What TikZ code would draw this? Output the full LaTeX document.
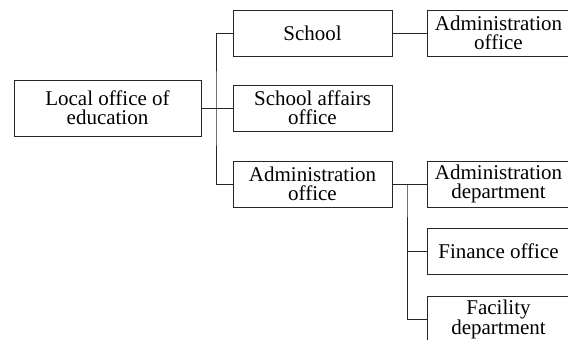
\documentclass[tikz,border=0pt]{standalone}
\usepackage{fontspec}
\setmainfont{Liberation Serif}
\begin{document}
\begin{tikzpicture}[x=1pt,y=-1pt,
  box/.style={draw=black!85, line width=0.8pt, inner sep=0pt, align=center,
    minimum width=159pt, minimum height=46pt,
    font=\fontsize{21}{19}\selectfont},
  rbox/.style={box, minimum width=143pt},
  conn/.style={draw=black!85, line width=0.8pt}]
\useasboundingbox (0,0) rectangle (568,340);
\node[box, minimum width=187pt, minimum height=56pt] (local) at (107.5,108) {Local office of\\education};
\node[box] (school) at (312.5,33) {School};
\node[box] (affairs) at (312.5,108) {School affairs\\office};
\node[box] (admoff) at (312.5,184) {Administration\\office};
\node[rbox] (adm1) at (498.5,33) {Administration\\office};
\node[rbox] (admdept) at (498.5,184) {Administration\\department};
\node[rbox] (finance) at (498.5,251) {Finance office};
\node[rbox] (facility) at (498.5,319) {Facility\\department};
\coordinate (t1) at (216,108);
\coordinate (t2) at (407,184);
\draw[conn] (local.east) -- (affairs.west);
\draw[conn] (school.west) -| (t1) |- (admoff.west);
\draw[conn] (school.east) -- (adm1.west);
\draw[conn] (admoff.east) -- (admdept.west);
\draw[conn] (finance.west) -| (t2) |- (facility.west);
\end{tikzpicture}
\end{document}
